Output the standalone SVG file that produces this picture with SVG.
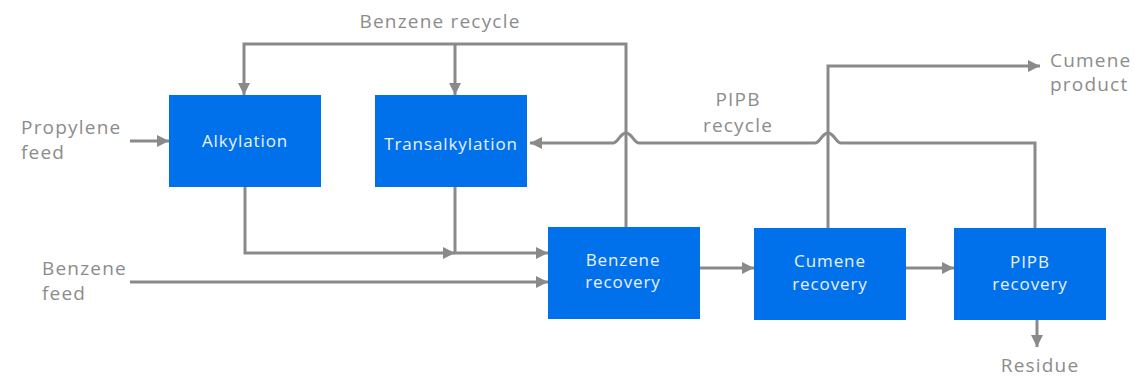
<svg xmlns="http://www.w3.org/2000/svg" width="1134" height="378" viewBox="0 0 1134 378">
<style>
.box{fill:#0070EB}
.bt{font-family:"Open Sans","Liberation Sans",sans-serif;font-size:17px;letter-spacing:0.9px;fill:#EAF2FF;text-anchor:middle}
.lb{font-family:"Open Sans","Liberation Sans",sans-serif;font-size:19px;letter-spacing:1.2px;fill:#8C8C8C}
.ln{fill:none;stroke:#8A8A8A;stroke-width:3}
</style>
<defs>
<marker id="ah" viewBox="0 0 12 12" refX="12" refY="6" markerWidth="12" markerHeight="12" markerUnits="userSpaceOnUse" orient="auto">
<path d="M0,0 L12,6 L0,12 Z" fill="#8A8A8A"/>
</marker>
</defs>
<g id="connectors">
<path class="ln" d="M626,228 V44 H244 V95" marker-end="url(#ah)"/>
<path class="ln" d="M455,44 V95" marker-end="url(#ah)"/>
<path class="ln" d="M130,141 H169" marker-end="url(#ah)"/>
<path class="ln" d="M245,187 V253 H455" marker-end="url(#ah)"/>
<path class="ln" d="M455,187 V253 H548" marker-end="url(#ah)"/>
<path class="ln" d="M130,282 H548" marker-end="url(#ah)"/>
<path class="ln" d="M700,268 H754" marker-end="url(#ah)"/>
<path class="ln" d="M906,268 H954" marker-end="url(#ah)"/>
<path class="ln" d="M828,228 V66 H1040" marker-end="url(#ah)"/>
<path class="ln" d="M1035,228 V143 H841 C836,143 834,133 828,133 C822,133 820,143 815,143 H639 C634,143 632,133 626,133 C620,133 618,143 613,143 H530" marker-end="url(#ah)"/>
<path class="ln" d="M1037,320 V347" marker-end="url(#ah)"/>
</g>
<g id="alkylation"><rect class="box" x="169" y="95" width="152" height="92"/><text class="bt" x="245" y="147">Alkylation</text></g>
<g id="transalkylation"><rect class="box" x="375" y="95" width="152" height="92"/><text class="bt" x="451" y="150">Transalkylation</text></g>
<g id="benzene-recovery"><rect class="box" x="548" y="227" width="152" height="92"/><text class="bt" x="623" y="266">Benzene</text><text class="bt" x="623" y="288">recovery</text></g>
<g id="cumene-recovery"><rect class="box" x="754" y="228" width="152" height="92"/><text class="bt" x="830" y="267">Cumene</text><text class="bt" x="830" y="290">recovery</text></g>
<g id="pipb-recovery"><rect class="box" x="954" y="228" width="152" height="92"/><text class="bt" x="1030" y="268">PIPB</text><text class="bt" x="1030" y="290">recovery</text></g>
<g id="labels">
<text class="lb" x="440" y="28" text-anchor="middle">Benzene recycle</text>
<text class="lb" x="21" y="134">Propylene</text><text class="lb" x="21" y="159">feed</text>
<text class="lb" x="42" y="275">Benzene</text><text class="lb" x="42" y="300">feed</text>
<text class="lb" x="738" y="106" text-anchor="middle">PIPB</text><text class="lb" x="738" y="132" text-anchor="middle">recycle</text>
<text class="lb" x="1050" y="67">Cumene</text><text class="lb" x="1050" y="91">product</text>
<text class="lb" x="1040" y="372" text-anchor="middle">Residue</text>
</g>
</svg>
